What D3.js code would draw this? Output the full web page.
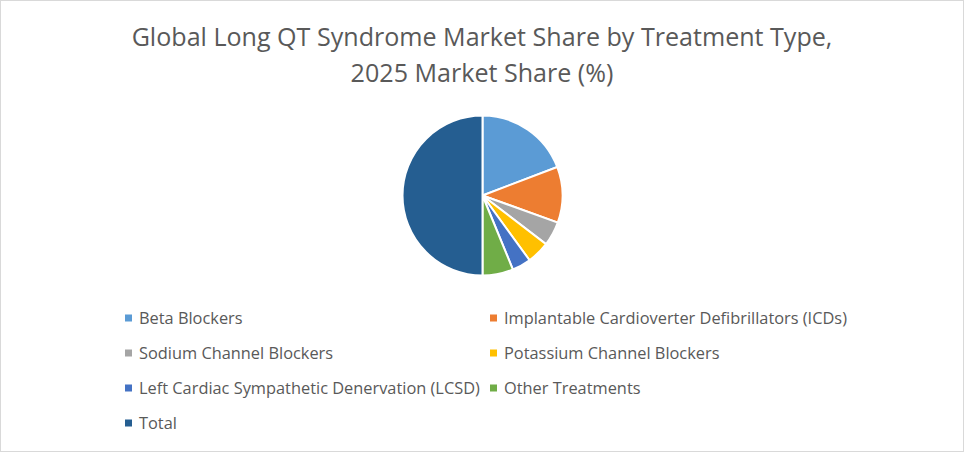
<!DOCTYPE html>
<html>
<head>
<meta charset="utf-8">
<script src="https://cdn.jsdelivr.net/npm/d3@7"></script>
<style>
  body { margin: 0; background: #fff; }
  svg text { font-family: "Open Sans", "Liberation Sans", sans-serif; fill: #595959; }
</style>
</head>
<body>
<div id="chart"></div>
<script>
// data
var categories = ["Beta Blockers", "Implantable Cardioverter Defibrillators (ICDs)", "Sodium Channel Blockers",
  "Potassium Channel Blockers", "Left Cardiac Sympathetic Denervation (LCSD)", "Other Treatments", "Total"];
var shares = [19.2, 11.3, 4.9, 4.6, 3.8, 6.2, 50];
var colors = ["#5B9BD5", "#ED7D31", "#A5A5A5", "#FFC000", "#4472C4", "#70AD47", "#255E91"];
var titleLines = ["Global Long QT Syndrome Market Share by Treatment Type,", "2025 Market Share (%)"];

var width = 964, height = 452;

var svg = d3.select("#chart").append("svg")
  .attr("width", width)
  .attr("height", height);

// chart border
svg.append("rect")
  .attr("x", 0.5).attr("y", 0.5)
  .attr("width", width - 1).attr("height", height - 1)
  .style("fill", "#fff")
  .style("stroke", "#d9d9d9");

// title, scaled so line 1 spans same width as the original
var title = svg.append("g");
var t1 = title.append("text")
  .attr("x", width / 2).attr("y", 46)
  .attr("text-anchor", "middle")
  .style("font-size", "24px")
  .text(titleLines[0]);
var fontScale = 701 / t1.node().getComputedTextLength();
t1.style("font-size", (24 * fontScale) + "px");
title.append("text")
  .attr("x", width / 2).attr("y", 82)
  .attr("text-anchor", "middle")
  .style("font-size", (24 * fontScale) + "px")
  .text(titleLines[1]);

// pie
var pie = d3.pie().sort(null).value(function(d) { return d; });
var arc = d3.arc().innerRadius(0).outerRadius(80);

svg.append("g")
  .attr("transform", "translate(482.5,195.5)")
  .selectAll("path")
  .data(pie(shares))
  .enter().append("path")
  .attr("d", arc)
  .style("fill", function(d, i) { return colors[i]; })
  .style("stroke", "#fff")
  .style("stroke-width", "2px");

// legend, two columns
var colX = d3.scaleOrdinal().domain([0, 1]).range([125, 490]);
var rowY = d3.scaleLinear().domain([0, 3]).range([318, 423]);

var legend = svg.append("g").selectAll("g")
  .data(categories)
  .enter().append("g")
  .attr("transform", function(d, i) {
    return "translate(" + colX(i % 2) + "," + rowY(Math.floor(i / 2)) + ")";
  });

legend.append("rect")
  .attr("x", 0).attr("y", -3.5)
  .attr("width", 7).attr("height", 7)
  .style("fill", function(d, i) { return colors[i]; });

var labels = legend.append("text")
  .attr("x", 14).attr("y", 0)
  .attr("dy", "0.35em")
  .style("font-size", "16px")
  .text(function(d) { return d; });

// fit legend so the longest label matches the original width
var lcsdWidth = labels.filter(function(d, i) { return i == 4; }).node().getComputedTextLength();
labels.style("font-size", (16 * 341 / lcsdWidth) + "px");
</script>
</body>
</html>
